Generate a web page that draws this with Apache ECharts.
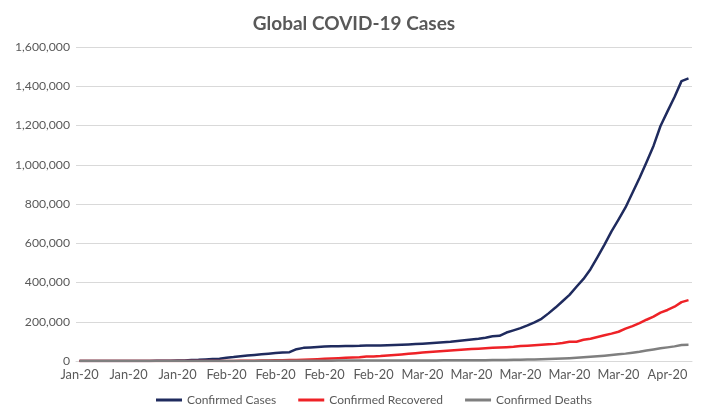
<!DOCTYPE html>
<html>
<head>
<meta charset="utf-8">
<script src="https://cdn.jsdelivr.net/npm/echarts@6/dist/echarts.min.js"></script>
<style>
    html, body {margin: 0; padding: 0; background: #fff;}
    #chart {width: 708px; height: 405px;}
</style>
</head>
<body>
<div id="chart"></div>
<script>
var monthNames = ['Jan', 'Feb', 'Mar', 'Apr', 'May', 'Jun', 'Jul', 'Aug', 'Sep', 'Oct', 'Nov', 'Dec'];
var firstDay = '2020-01-12';
var dayCount = 88;

// 12 Jan .. 8 Apr 2020, daily
var confirmed = [
    0, 0, 0, 0, 0, 0, 0, 0, 0, 0,
    555, 654, 941, 1434, 2118, 2927, 5578, 6166, 8234, 9927,
    12038, 16787, 19887, 23898, 27643, 30802, 34395, 37129, 40159, 42768,
    44810, 60381, 66909, 69052, 71235, 73270, 75152, 75652, 76212, 76841,
    77200, 78602, 78982, 79546, 80399, 81376, 82738, 84124, 86013,
    88371, 90309, 92844, 95124, 97886, 101800, 105836, 109835, 113582, 118582,
    125865, 128343, 145193, 156097, 167449, 181531, 197146, 214910, 242708, 272166,
    304524, 336953, 378235, 418045, 467653, 529591, 593291, 660706, 720117, 782365,
    857487,
    932605, 1013157, 1095917, 1197405, 1272115, 1345101, 1426096, 1440000
];
var recovered = [
    0, 0, 0, 0, 0, 0, 0, 0, 0, 0,
    28, 30, 36, 39, 52, 61, 107, 126, 143, 222,
    284, 472, 623, 852, 1124, 1487, 2011, 2616, 3244, 3946,
    4683, 5150, 6295, 8058, 9395, 10865, 12583, 14352, 16121, 18177,
    18890, 22886, 23394, 25227, 27905, 30384, 33277, 36711, 39782,
    42716, 45602, 48228, 51170, 53796, 55865, 58358, 60694, 62494, 64404,
    67003, 68324, 70251, 72624, 76034, 78088, 80840, 83207, 84854, 87256,
    91499, 97885, 98341, 107890, 113604, 121966, 130915, 139415, 149082, 164566,
    178034,
    193177, 210263, 225796, 246152, 260012, 276515, 300054, 310000
];
var deaths = [
    0, 0, 0, 0, 0, 0, 0, 0, 0, 0,
    17, 18, 26, 42, 56, 82, 131, 133, 171, 213,
    259, 362, 426, 492, 564, 634, 719, 806, 906, 1013,
    1113, 1118, 1371, 1523, 1666, 1770, 1868, 2007, 2122, 2247,
    2251, 2458, 2469, 2629, 2708, 2770, 2814, 2872, 2941,
    2996, 3085, 3160, 3254, 3348, 3460, 3558, 3802, 3988, 4262,
    4615, 4720, 5404, 5819, 6440, 7126, 7905, 8733, 9867, 11299,
    12973, 14623, 16497, 18615, 21181, 23970, 27198, 30652, 33925, 37582,
    42107,
    46809, 52983, 58787, 64606, 69374, 74565, 81865, 83000
];

function buildDays(start, n) {
    var list = [];
    var d = new Date(start + 'T00:00:00');
    for (var i = 0; i < n; i++) {
        list.push(monthNames[d.getMonth()] + '-' + String(d.getFullYear()).slice(2));
        d.setDate(d.getDate() + 1);
    }
    return list;
}

function fmt(v) {
    return v.toString().replace(/\B(?=(\d{3})+(?!\d))/g, ',');
}

var days = buildDays(firstDay, dayCount);
var chart = echarts.init(document.getElementById('chart'));
var textColor = '#595959';
var font = 'Lato, "Open Sans", sans-serif';

function makeLine(name, data, color) {
    return {
        name: name,
        type: 'line',
        data: data,
        symbol: 'none',
        smooth: false,
        lineStyle: {color: color, width: 2.5, join: 'round'},
        itemStyle: {color: color}
    };
}

var option = {
    animation: false,
    textStyle: {fontFamily: font},
    title: {
        text: 'Global COVID-19 Cases',
        left: 'center',
        top: 9,
        textStyle: {color: textColor, fontSize: 19, fontWeight: 'bold', fontFamily: font}
    },
    legend: {
        top: 389,
        left: 151,
        itemWidth: 26,
        itemHeight: 3,
        itemGap: 22,
        icon: 'rect',
        textStyle: {color: textColor, fontSize: 12, fontFamily: font},
        data: ['Confirmed Cases', 'Confirmed Recovered', 'Confirmed Deaths']
    },
    grid: {left: 76, right: 16, top: 47, bottom: 44},
    xAxis: {
        type: 'category',
        data: days,
        boundaryGap: true,
        axisLine: {lineStyle: {color: '#d9d9d9'}},
        axisTick: {interval: 6, length: 4, lineStyle: {color: '#d9d9d9'}},
        axisLabel: {interval: 6, color: textColor, fontSize: 12.8, margin: 7, fontFamily: font}
    },
    yAxis: {
        type: 'value',
        min: 0,
        max: 1600000,
        interval: 200000,
        axisLine: {show: false},
        axisTick: {show: false},
        splitLine: {lineStyle: {color: '#d9d9d9'}},
        axisLabel: {color: textColor, fontSize: 12.2, margin: 6, fontFamily: font, formatter: fmt}
    },
    series: [
        makeLine('Confirmed Cases', confirmed, '#1f2b5e'),
        makeLine('Confirmed Recovered', recovered, '#ee2227'),
        makeLine('Confirmed Deaths', deaths, '#7f7f7f')
    ]
};
chart.setOption(option);
</script>
</body>
</html>
